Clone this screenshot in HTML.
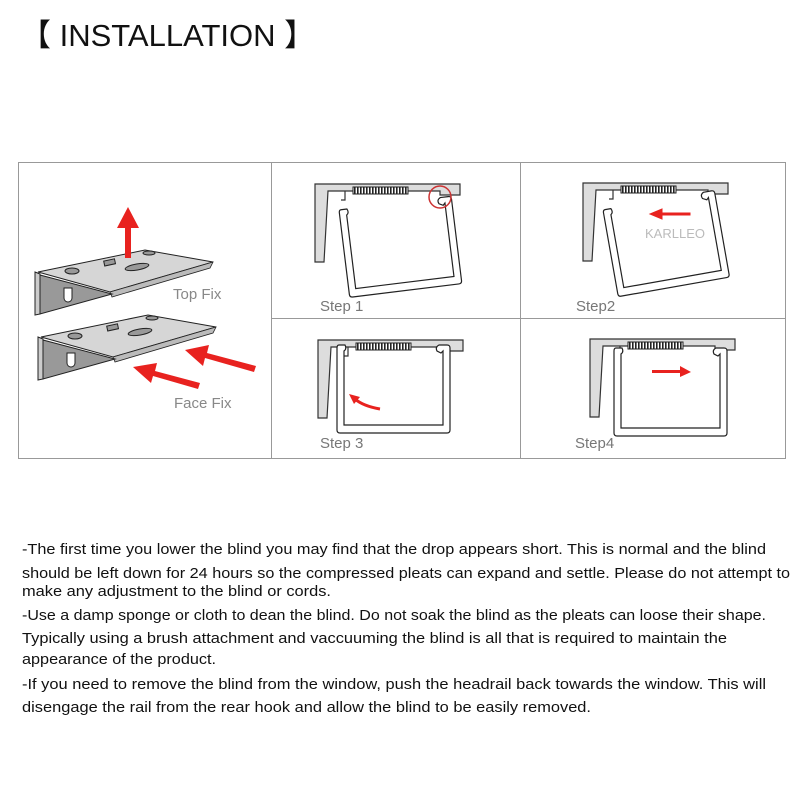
<!DOCTYPE html>
<html><head><meta charset="utf-8"><style>
body{margin:0;background:#fff}
svg{display:block}
text{font-family:"Liberation Sans",sans-serif}
</style></head><body>
<svg width="800" height="800" viewBox="0 0 800 800">
<defs>
<pattern id="sp" width="3" height="8" patternUnits="userSpaceOnUse"><rect width="3" height="8" fill="#fff"/><rect width="1.6" height="8" fill="#222"/></pattern>
<g id="br">
<path d="M0,0 H145 V11 H125 V7 H13 L9,78 H0 Z" fill="#ddd" stroke="#333" stroke-width="1.2"/>
<rect x="38" y="3" width="55" height="7" fill="url(#sp)" stroke="#222" stroke-width="1"/>
<path d="M30,7 V16 H26" fill="none" stroke="#333" stroke-width="1.2"/>
</g>
<g id="fr">
<path d="M8,0 H2 Q0,0 0,3 V85 Q0,88 3,88 H110 Q113,88 113,85 V3 Q113,0 110,0 H102 Q98,2 100,6 L104,8 L106,6 V80 H7 V6 Q10,4 8,0 Z" fill="#fff" stroke="#222" stroke-width="1.2"/>
</g>
<g id="plate">
<polygon points="38,272 145,250 213,262 110,292" fill="#d6d6d6" stroke="#222" stroke-width="1"/>
<polygon points="110,292 213,262 210,268 112,297" fill="#bbb" stroke="#222" stroke-width="0.8"/>
<polygon points="40,275 112,294 40,314" fill="#999" stroke="#222" stroke-width="1"/>
<polygon points="35,272 40,274 40,314 35,315" fill="#ccc" stroke="#222" stroke-width="1"/>
<path d="M64,288 v10 a4,4 0 0 0 8,0 v-10 z" fill="#fff" stroke="#222"/>
<ellipse cx="72" cy="271" rx="7" ry="3" fill="#999" stroke="#222"/>
<rect x="104" y="260" width="11" height="5" fill="#999" stroke="#222" transform="rotate(-12 109 262)"/>
<ellipse cx="137" cy="267" rx="12" ry="3" fill="#999" stroke="#222" transform="rotate(-10 137 267)"/>
<ellipse cx="149" cy="253" rx="6" ry="2" fill="#999" stroke="#222"/>
</g>
</defs>
<text x="20" y="46" font-size="31" fill="#111">【 INSTALLATION 】</text>

<rect x="18.5" y="162.5" width="767" height="296" fill="none" stroke="#999" stroke-width="1"/>
<line x1="271.5" y1="162" x2="271.5" y2="458" stroke="#999"/>
<line x1="520.5" y1="162" x2="520.5" y2="458" stroke="#999"/>
<line x1="271" y1="318.5" x2="785" y2="318.5" stroke="#999"/>

<use href="#plate"/>
<use href="#plate" transform="translate(3,65)"/>
<path d="M125,258 V228 H117 L128,207 L139,228 H131 V258 Z" fill="#e8221f"/>
<path d="M256,366 L207,353 L209,345 L185,350 L203,366 L205,358 L254,372 Z" fill="#e8221f"/>
<path d="M200,383 L155,371 L157,363 L133,367 L151,383 L153,376 L198,389 Z" fill="#e8221f"/>
<text x="173" y="299" font-size="15" fill="#888">Top Fix</text>
<text x="174" y="408" font-size="15" fill="#888">Face Fix</text>

<!-- step1 -->
<use href="#br" transform="translate(315,184)"/>
<use href="#fr" transform="translate(339,210) rotate(-7)"/>
<circle cx="440" cy="197" r="11" fill="none" stroke="#c33" stroke-width="1.5"/>
<text x="320" y="311" font-size="15" fill="#777">Step 1</text>
<!-- step2 -->
<use href="#br" transform="translate(583,183)"/>
<use href="#fr" transform="translate(603,210) rotate(-10)"/>
<path d="M690,213 H662 V209 L650,214 L662,219 V215 H690 Z" fill="#e8221f" stroke="#e8221f"/>
<text x="645" y="238" font-size="13" fill="#bbb">KARLLEO</text>
<text x="576" y="311" font-size="15" fill="#777">Step2</text>
<!-- step3 -->
<use href="#br" transform="translate(318,340)"/>
<use href="#fr" transform="translate(337,345)"/>
<path d="M380,409 Q363,406 355,399" fill="none" stroke="#e8221f" stroke-width="3"/>
<path d="M349,394 L360,397 L354,404 Z" fill="#e8221f"/>
<text x="320" y="448" font-size="15" fill="#777">Step 3</text>
<!-- step4 -->
<use href="#br" transform="translate(590,339)"/>
<use href="#fr" transform="translate(614,348)"/>
<path d="M652,370 H680 V366 L691,372 L680,377 V373 H652 Z" fill="#e8221f"/>
<text x="575" y="448" font-size="15" fill="#777">Step4</text>

<g font-size="15" fill="#111">
<text x="22" y="554" textLength="744" lengthAdjust="spacingAndGlyphs">-The first time you lower the blind you may find that the drop appears short. This is normal and the blind</text>
<text x="22" y="578" textLength="768" lengthAdjust="spacingAndGlyphs">should be left down for 24 hours so the compressed pleats can expand and settle. Please do not attempt to</text>
<text x="22" y="596" textLength="309" lengthAdjust="spacingAndGlyphs">make any adjustment to the blind or cords.</text>
<text x="22" y="620" textLength="744" lengthAdjust="spacingAndGlyphs">-Use a damp sponge or cloth to dean the blind. Do not soak the blind as the pleats can loose their shape.</text>
<text x="22" y="643" textLength="705" lengthAdjust="spacingAndGlyphs">Typically using a brush attachment and vaccuuming the blind is all that is required to maintain the</text>
<text x="22" y="664" textLength="194" lengthAdjust="spacingAndGlyphs">appearance of the product.</text>
<text x="22" y="689" textLength="744" lengthAdjust="spacingAndGlyphs">-If you need to remove the blind from the window, push the headrail back towards the window. This will</text>
<text x="22" y="712" textLength="569" lengthAdjust="spacingAndGlyphs">disengage the rail from the rear hook and allow the blind to be easily removed.</text>
</g>
</svg>
</body></html>
